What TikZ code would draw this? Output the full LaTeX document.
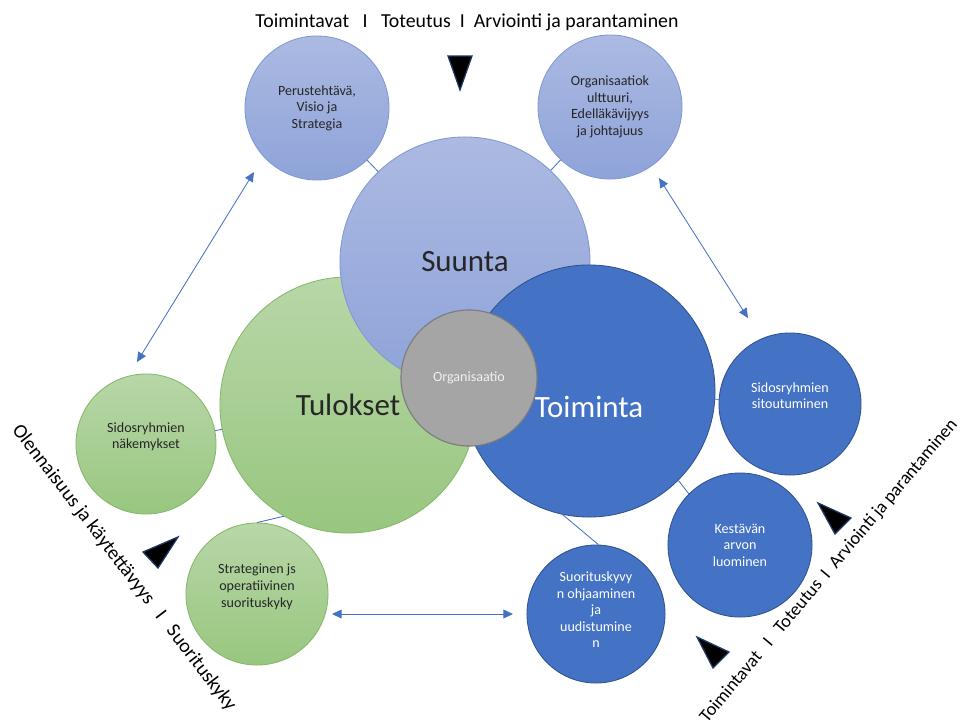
\documentclass[tikz,border=0pt]{standalone}
\usepackage{fontspec}
\setmainfont{Carlito}
\usetikzlibrary{arrows.meta, calc}

\definecolor{paleTop}{RGB}{172,186,226}
\definecolor{paleBot}{RGB}{142,163,217}
\definecolor{paleLine}{RGB}{128,152,210}
\definecolor{leafTop}{RGB}{184,215,168}
\definecolor{leafBot}{RGB}{152,198,127}
\definecolor{leafLine}{RGB}{132,184,104}
\definecolor{deepFill}{RGB}{68,114,196}
\definecolor{deepLine}{RGB}{47,82,143}
\definecolor{coreFill}{RGB}{165,165,165}
\definecolor{coreLine}{RGB}{125,125,125}
\definecolor{linkBlue}{RGB}{68,114,196}
\definecolor{triEdge}{RGB}{31,56,100}

\begin{document}
\begin{tikzpicture}[x=0.025cm, y=-0.025cm,
  pale/.style={circle, draw=paleLine, top color=paleTop, bottom color=paleBot, text=black!85, inner sep=0pt, align=center, line width=0.6pt},
  leaf/.style={circle, draw=leafLine, top color=leafTop, bottom color=leafBot, text=black!85, inner sep=0pt, align=center, line width=0.6pt},
  deep/.style={circle, draw=deepLine, fill=deepFill, text=white, inner sep=0pt, align=center, line width=0.6pt},
  core/.style={circle, draw=coreLine, fill=coreFill, text=white!94!black, inner sep=0pt, line width=0.8pt},
  txt/.style={font=\fontsize{10}{11.8}\selectfont},
  big/.style={font=\fontsize{22}{26}\selectfont},
  link/.style={draw=linkBlue, line width=0.6pt},
  dbl/.style={{Triangle[length=2.4mm,width=2.2mm]}-{Triangle[length=2.4mm,width=2.2mm]}, draw=linkBlue, line width=0.6pt},
  tri/.style={fill=black, draw=triEdge, line width=0.9pt, line join=miter},
  axlbl/.style={font=\fontsize{14.1}{16}\selectfont}
]
  \useasboundingbox (0,0) rectangle (963,725);

  % Big circles
  \node[leaf, big, minimum size=6.4cm] (tul) at (348,405) {Tulokset};
  \node[pale, big, minimum size=6.25cm] (suu) at (465,262) {Suunta};
  \node[deep, minimum size=6.3cm, label={[big, white, yshift=-0.4cm]center:Toiminta}] (toi) at (589,391) {};
  \node[core, txt, minimum size=3.4cm] (org) at (469,378) {Organisaatio};

  % Small circles
  \node[pale, txt, minimum size=3.6cm] (per) at (317,108) {Perustehtävä,\\Visio ja\\Strategia};
  \node[pale, txt, minimum size=3.6cm] (kul) at (610,107) {Organisaatiok\\ulttuuri,\\Edelläkävijyys\\ja johtajuus};
  \node[leaf, txt, minimum size=3.5cm] (nak) at (146,444) {Sidosryhmien\\näkemykset\\[0pt]};
  \node[leaf, txt, minimum size=3.55cm] (str) at (257,594) {Strateginen js\\operatiivinen\\suorituskyky\\[0pt]};
  \node[deep, txt, minimum size=3.45cm] (suo) at (596,614) {Suorituskyvy\\n ohjaaminen\\ja\\uudistumine\\n\\[-0.6em]};
  \node[deep, txt, minimum size=3.6cm] (kes) at (740,545) {Kestävän\\arvon\\luominen};
  \node[deep, txt, minimum size=3.55cm] (sit) at (790,404) {Sidosryhmien\\sitoutuminen\\[0pt]};

  % Links to big circles
  \draw[link] (per) -- (suu);
  \draw[link] (kul) -- (suu);
  \draw[link] (nak) -- (tul);
  \draw[link] (str.north) -- (tul.240);
  \draw[link] (suo.88) -- (toi.258);
  \draw[link] (kes.135) -- (toi.315);
  \draw[link] (sit) -- (toi);

  % Double arrows
  \coordinate (a1) at (254,172);
  \coordinate (a2) at (137,362);
  \coordinate (b1) at (659,178);
  \coordinate (b2) at (748,318);
  \coordinate (c1) at (332,614);
  \coordinate (c2) at (513,614);
  \draw[dbl] (a1) -- (a2);
  \draw[dbl] (b1) -- (b2);
  \draw[dbl] (c1) -- (c2);

  % Triangles
  \draw[tri] (448,56) -- (472,56) -- (460,90) -- cycle;
  \draw[tri] (178,537) -- (143,552) -- (158,568) -- cycle;
  \draw[tri] (818,503) -- (851,518) -- (835,534) -- cycle;
  \draw[tri] (697,637) -- (729,652) -- (713,668) -- cycle;

  % Axis texts
  \node[axlbl] (top) at (467,22) {Toimintavat\ \ \ I\ \ \ Toteutus\ \ I\ \ Arviointi ja parantaminen};
  \node[axlbl, rotate=-52.5] (lft) at (124,568) {Olennaisuus ja käytettävyys\ \ \ I\ \ \ Suorituskyky};
  \node[axlbl, font=\fontsize{13}{15}\selectfont, rotate=50] (rgt) at (829,571) {Toimintavat\ \ \ I\ \ \ Toteutus\ \ I\ \ Arviointi ja parantaminen};

\end{tikzpicture}
\end{document}
